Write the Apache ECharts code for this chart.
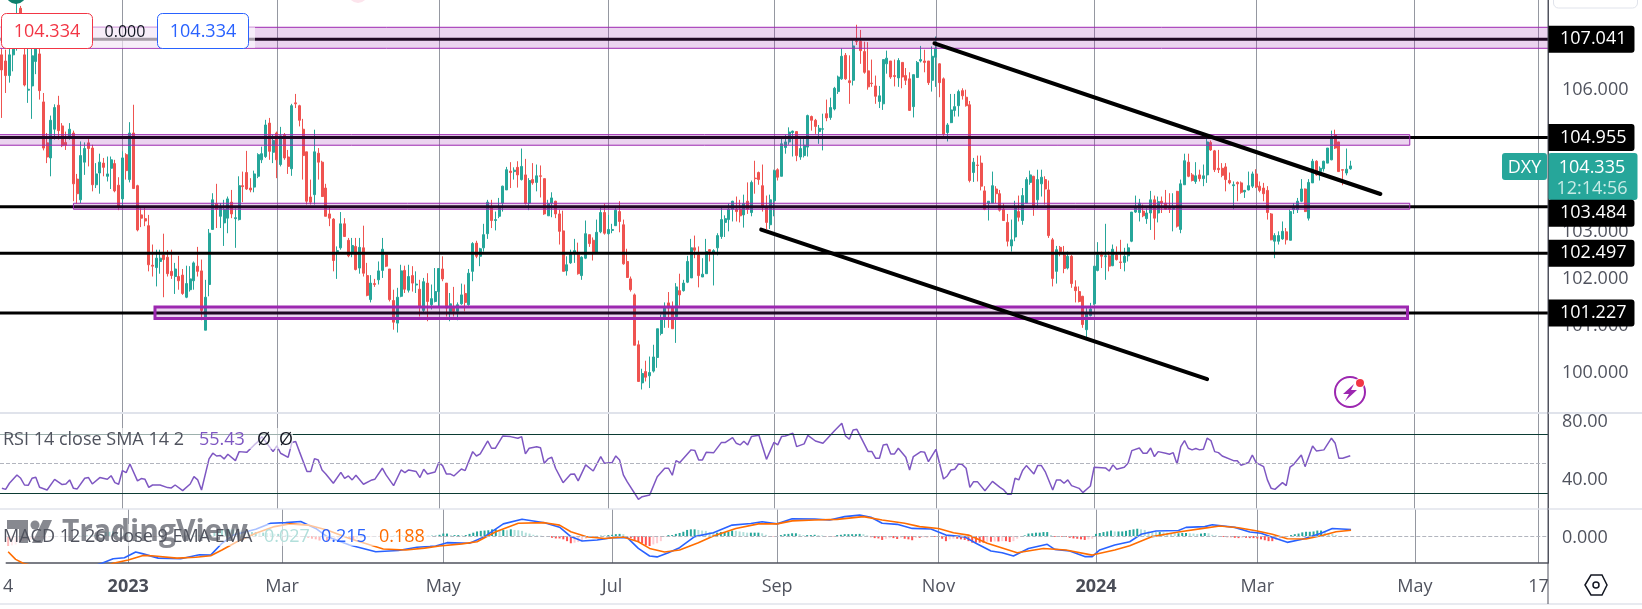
<!DOCTYPE html>
<html>
<head>
<meta charset="utf-8">
<script src="https://cdn.jsdelivr.net/npm/echarts@6/dist/echarts.min.js"></script>
<style>
html, body { margin: 0; padding: 0; background: #fff; }
#main { width: 1642px; height: 609px; }
</style>
</head>
<body>
<div id="main"></div>
<script>
var opens = [
106.71,106.58,106.27,106.71,106.96,107.70,106.71,105.96,106.05,106.57,
106.73,105.71,104.84,104.52,105.13,105.64,105.20,104.85,104.98,105.05,
104.07,103.63,104.43,104.84,104.73,103.95,104.20,104.41,104.13,104.30,
104.40,103.94,103.65,104.59,104.06,105.05,103.93,103.31,103.23,103.08,
102.24,102.19,102.32,102.46,102.41,102.11,102.00,102.00,102.03,101.56,
101.72,101.91,102.22,102.12,100.86,101.83,103.00,103.55,103.28,103.14,
103.24,103.58,103.23,103.21,103.93,104.21,103.88,103.90,104.13,104.48,
104.55,105.26,104.64,105.05,104.38,105.01,104.54,104.29,105.69,105.63,
105.13,104.65,103.69,103.74,104.62,104.43,103.88,103.33,103.22,102.53,
102.61,103.12,102.77,102.50,102.64,102.18,102.61,102.02,101.51,101.85,
101.93,102.13,102.46,102.16,101.49,101.01,101.58,102.13,101.71,102.02,
101.82,101.73,101.28,101.86,101.40,101.47,101.68,102.16,101.86,101.26,
101.33,101.26,101.42,101.64,101.40,102.11,102.71,102.43,102.61,102.91,
103.49,103.19,103.28,103.56,103.84,104.24,104.23,104.32,104.06,104.16,
103.56,104.06,104.00,104.14,104.08,103.29,103.56,103.60,103.33,102.97,
102.12,102.29,102.52,102.46,102.02,102.39,102.89,102.77,102.52,102.95,
103.36,102.91,102.98,103.08,103.38,103.10,102.32,101.95,101.61,100.55,
99.74,99.98,99.89,99.99,100.28,100.79,101.14,101.44,101.33,101.15,
101.70,101.70,101.88,101.97,102.61,102.46,101.99,102.06,102.57,102.52,
102.61,102.85,103.15,103.21,103.43,103.43,103.43,103.31,103.60,103.36,
104.09,104.21,103.93,103.48,103.10,103.61,104.27,104.13,104.74,104.86,
105.06,105.08,104.54,104.57,104.75,105.40,105.32,105.08,105.13,105.46,
105.38,105.56,105.93,106.20,106.70,106.16,106.17,107.00,107.00,106.78,
106.37,106.11,106.05,105.72,105.67,106.52,106.58,106.27,106.22,106.55,
106.27,106.20,105.61,106.23,106.58,106.58,106.58,106.17,106.66,106.52,
106.20,105.06,105.27,105.53,105.63,105.95,105.81,105.65,104.21,104.37,
104.41,103.82,103.55,103.56,103.86,103.76,103.43,103.15,102.65,102.84,
103.38,103.19,103.56,104.00,104.13,103.63,103.97,104.06,103.84,102.78,
102.11,102.62,102.46,102.18,102.43,101.78,101.68,101.58,100.87,101.17,
101.42,102.13,102.46,102.42,102.44,102.23,102.46,102.31,102.30,102.44,
102.75,103.37,103.36,103.39,103.23,103.35,103.63,103.35,103.60,103.56,
103.45,103.43,103.81,103.00,103.95,104.43,104.16,104.02,104.16,104.08,
104.16,104.85,104.67,104.30,104.30,104.33,104.04,103.93,104.00,103.99,
103.80,103.84,103.92,104.18,103.92,103.88,103.83,103.33,102.75,102.75,
102.80,102.95,102.77,103.42,103.42,103.60,103.86,103.24,103.99,104.45,
104.23,104.29,104.41,104.48,105.01,104.86,104.27,104.20,104.29
];
var closes = [
106.39,106.27,106.71,106.85,107.45,107.20,106.07,105.98,106.69,106.85,
105.95,104.73,104.54,105.32,105.59,105.10,104.78,104.79,105.13,103.97,
103.76,104.57,104.72,104.72,103.95,104.18,104.43,104.32,104.18,104.48,
103.82,103.50,104.52,104.25,105.05,103.87,102.99,103.24,103.18,102.25,
102.22,102.39,102.39,102.36,102.06,102.02,102.16,101.91,101.64,101.85,
101.95,102.29,102.11,101.28,101.56,102.92,103.63,103.43,103.45,103.42,
103.65,103.33,103.25,103.93,103.91,103.86,103.84,104.18,104.59,104.61,
105.22,104.66,104.89,104.48,104.99,104.52,104.34,105.63,105.67,105.32,
104.57,103.60,103.58,104.65,104.43,103.70,103.28,103.24,102.34,102.55,
103.12,102.85,102.44,102.66,102.15,102.62,102.07,101.60,101.86,101.83,
102.12,102.58,102.22,101.51,101.03,101.56,102.12,101.73,102.00,101.86,
101.84,101.37,101.89,101.47,101.53,101.68,102.17,101.95,101.33,101.42,
101.26,101.40,101.61,101.45,102.07,102.70,102.43,102.59,102.89,103.58,
103.19,103.21,103.48,103.92,104.27,104.21,104.26,104.16,104.34,103.55,
104.04,103.99,104.14,104.13,103.33,103.55,103.67,103.33,102.96,102.11,
102.25,102.48,102.55,102.06,102.41,102.91,102.70,102.52,102.94,103.36,
102.92,103.00,103.00,103.41,103.17,102.27,101.98,101.72,100.54,99.77,
99.94,99.86,99.96,100.29,100.89,101.08,101.33,101.33,100.89,101.78,
101.61,101.86,102.32,102.61,102.56,102.02,102.05,102.53,102.53,102.55,
102.87,103.21,103.23,103.43,103.60,103.38,103.29,103.55,103.43,104.00,
104.08,104.06,103.50,103.15,103.63,104.25,104.11,104.82,104.86,105.07,
105.09,104.57,104.72,104.79,105.42,105.32,105.19,105.15,105.14,105.37,
105.59,106.00,106.24,106.68,106.20,106.12,106.90,106.99,106.80,106.34,
106.03,106.10,105.83,105.84,106.61,106.64,106.24,106.25,106.59,106.24,
106.17,105.53,106.29,106.55,106.61,106.55,106.12,106.68,106.85,106.12,
105.03,105.22,105.54,105.61,105.93,105.84,105.63,104.04,104.43,104.36,
103.92,103.43,103.60,103.93,103.76,103.41,103.19,102.75,102.78,103.48,
103.26,103.72,104.06,104.16,103.50,104.06,104.11,103.86,102.87,101.96,
102.57,102.53,102.17,102.43,101.85,101.70,101.47,100.98,101.22,101.31,
102.22,102.46,102.43,102.44,102.22,102.58,102.36,102.30,102.43,102.61,
103.37,103.48,103.56,103.29,103.35,103.63,103.24,103.59,103.56,103.43,
103.43,103.45,103.07,103.97,104.46,104.13,104.04,104.14,104.08,104.14,
104.86,104.69,104.27,104.27,104.15,104.06,103.99,103.95,103.97,103.79,
103.83,103.93,104.18,103.90,103.83,103.76,103.36,102.78,102.87,102.87,
102.96,102.78,103.38,103.49,103.60,103.86,103.38,104.00,104.45,104.16,
104.30,104.45,104.73,104.96,104.73,104.23,104.26,104.28,104.35
];
var lows = [
105.37,105.90,106.12,106.36,106.80,106.90,106.04,105.69,105.35,106.30,
105.76,104.68,104.41,104.13,104.91,104.91,104.75,104.69,104.91,103.60,
103.55,103.56,104.16,104.34,103.81,103.88,103.76,104.13,104.02,103.86,
103.79,103.41,103.49,104.06,104.00,103.87,102.96,103.05,103.07,102.11,
102.00,101.79,102.06,101.56,102.00,101.95,101.63,101.72,101.61,101.54,
101.68,101.72,102.00,101.07,100.86,101.58,103.00,103.03,103.03,102.65,
102.92,103.24,102.61,103.19,103.58,103.84,103.79,103.79,104.09,104.41,
104.52,104.48,104.41,104.09,104.34,104.48,104.18,104.14,105.58,105.19,
104.06,103.53,103.53,103.53,104.06,103.69,103.28,103.07,102.11,101.95,
102.57,102.84,102.41,102.41,102.13,102.06,102.00,101.58,101.45,101.78,
101.83,101.97,102.20,101.47,100.87,100.81,101.56,101.65,101.66,101.68,
101.65,101.15,101.22,101.05,101.30,101.45,101.33,101.90,101.15,101.05,
101.15,101.07,101.40,101.26,101.38,101.90,102.39,102.22,102.53,102.80,
103.03,102.98,103.24,103.38,103.84,103.88,104.06,103.89,104.04,103.53,
103.41,103.95,103.81,103.68,103.31,103.29,103.26,103.24,102.68,102.11,
102.02,102.27,102.29,102.04,101.93,102.37,102.63,102.34,102.50,102.92,
102.89,102.89,102.92,103.08,102.94,102.25,101.97,101.68,100.54,99.77,
99.60,99.77,99.63,99.96,100.06,100.75,100.91,100.91,100.89,100.59,
101.38,101.68,101.86,101.97,102.39,101.77,101.99,102.06,102.32,101.81,
102.45,102.80,102.84,102.96,103.17,103.17,103.15,103.04,103.33,103.28,
103.76,103.95,103.38,103.01,103.01,103.28,104.04,104.13,104.61,104.80,
104.55,104.45,104.48,104.53,104.55,105.10,105.03,104.82,104.68,105.30,
105.33,105.53,105.88,106.18,106.18,105.67,106.06,106.92,106.52,106.31,
105.97,106.03,105.67,105.58,105.54,106.31,106.20,106.04,106.03,106.00,
106.07,105.52,105.38,106.22,106.55,106.34,106.07,105.93,106.03,105.81,
104.99,104.87,105.26,105.40,105.40,105.76,105.61,104.00,104.01,104.02,
103.83,103.41,103.19,103.56,103.56,103.38,103.19,102.64,102.53,102.75,
103.17,103.10,103.56,103.95,103.29,103.45,103.70,103.53,102.82,101.79,
101.85,102.43,102.07,102.15,101.76,101.45,101.45,100.91,100.71,101.15,
101.40,102.11,102.18,101.93,102.11,102.22,102.34,102.16,102.11,102.32,
102.73,103.35,103.17,103.26,103.12,102.99,102.78,103.15,103.35,103.42,
103.35,102.96,103.04,102.92,103.95,104.11,104.02,103.97,104.02,103.92,
103.99,104.67,104.22,104.20,104.11,103.81,103.96,103.43,103.60,103.76,
103.67,103.83,103.88,103.88,103.79,103.60,103.21,102.77,102.39,102.68,
102.78,102.68,102.77,103.33,103.35,103.58,103.37,103.19,103.99,104.14,
104.04,104.23,104.41,104.47,104.71,104.23,103.94,104.15,104.27
];
var highs = [
106.85,106.82,106.89,106.96,107.88,107.75,106.85,106.85,106.85,106.90,
106.85,105.90,105.05,105.42,105.66,105.84,105.26,105.08,105.26,105.10,
104.18,104.87,104.85,104.92,104.80,104.41,104.61,104.52,104.55,104.55,
104.48,104.11,104.66,104.62,105.28,105.65,103.95,103.45,103.48,103.31,
102.68,102.57,102.57,102.91,102.56,102.57,102.29,102.44,102.16,102.23,
102.22,102.32,102.63,102.36,101.93,103.01,103.77,103.97,103.56,103.63,
103.70,103.84,103.45,104.13,104.23,104.67,104.09,104.25,104.62,104.76,
105.33,105.37,105.01,105.08,105.18,105.05,104.69,105.67,105.88,105.65,
105.35,104.65,104.06,105.12,104.73,104.46,103.97,103.48,103.24,102.64,
103.37,103.24,102.82,102.82,102.82,102.82,103.08,102.29,102.03,101.95,
102.32,102.82,102.46,102.16,101.72,101.76,102.25,102.23,102.25,102.22,
102.11,101.93,101.97,102.07,101.83,102.18,102.17,102.43,101.86,101.65,
101.78,101.45,101.85,101.83,102.16,102.73,102.76,102.61,103.12,103.63,
103.63,103.38,103.67,103.93,104.33,104.43,104.32,104.45,104.72,104.50,
104.09,104.41,104.38,104.36,104.08,103.63,103.79,103.61,103.42,103.40,
102.43,102.57,102.80,102.72,102.43,103.19,102.89,102.83,103.21,103.48,
103.55,103.31,103.12,103.45,103.60,103.21,102.59,102.00,101.64,100.64,
100.04,100.21,100.30,100.55,100.89,101.19,101.45,101.67,101.47,101.86,
102.06,101.93,102.44,102.80,102.87,102.64,102.39,102.80,102.58,102.58,
102.92,103.48,103.30,103.55,103.61,103.70,103.63,103.74,104.00,104.04,
104.46,104.23,104.38,103.72,103.74,104.27,104.30,104.93,105.01,105.17,
105.10,105.08,104.94,104.92,105.44,105.42,105.35,105.22,105.46,105.76,
105.80,106.03,106.27,106.85,106.75,106.70,107.02,107.35,107.24,106.99,
106.98,106.61,106.27,106.05,106.61,106.80,106.58,106.61,106.64,106.55,
106.43,106.34,106.29,106.58,106.90,106.82,106.58,106.89,107.10,106.53,
106.23,105.26,105.88,105.88,105.97,106.00,105.97,105.73,104.52,104.57,
104.57,103.92,103.60,104.23,103.92,103.84,103.55,103.33,103.21,103.61,
103.72,103.88,104.11,104.25,104.14,104.27,104.27,104.13,104.04,102.82,
102.65,102.65,102.65,102.53,102.46,101.92,101.79,101.59,101.33,101.44,
102.22,102.73,102.53,103.12,102.53,102.68,102.64,102.78,102.61,102.70,
103.37,103.72,103.65,103.53,103.45,103.82,103.72,103.70,103.70,103.84,
103.77,103.77,103.82,104.06,104.61,104.61,104.20,104.43,104.27,104.38,
105.01,104.89,104.69,104.69,104.41,104.41,104.21,104.02,104.02,104.02,
103.84,104.23,104.23,104.28,104.02,103.99,103.92,103.35,102.92,102.96,
103.17,103.03,103.42,103.56,103.67,104.07,103.87,104.07,104.50,104.47,
104.34,104.46,104.73,105.10,105.12,104.86,104.27,104.72,104.46
];

// rsi: bar number and value of each vertex
var rsiBars = [0,1,2,4,5,6,7,8,9,10,12,14,16,17,18,19,20,22,23,24,26,28,29,30,31,32,33,34,36,37,38,39,40,42,44,45,46,48,50,51,52,53,55,56,57,58,59,60,62,63,65,67,68,69,70,72,73,74,76,77,78,79,81,82,83,84,85,86,88,90,91,92,93,94,96,98,99,101,102,104,106,107,108,110,111,112,113,115,116,117,118,119,120,122,123,125,126,127,129,130,131,133,135,137,138,139,140,142,143,144,145,146,147,149,151,152,153,155,157,159,160,162,163,164,165,166,169,170,172,174,176,177,178,179,180,183,184,185,186,187,189,191,192,194,195,196,197,198,199,201,203,205,206,207,208,210,211,213,214,216,218,221,223,224,225,226,227,230,231,232,233,234,235,236,237,238,240,241,242,244,245,246,248,250,251,252,253,254,255,256,257,258,259,261,263,265,266,267,268,269,270,271,272,274,275,276,277,279,280,281,282,283,284,286,287,289,290,293,294,295,296,298,299,300,302,303,304,305,306,307,309,310,311,312,313,314,315,316,317,318,319,320,321,322,323,324,327,328,329,331,332,333,335,336,337,338,340,341,342,343,345,346,348,349,351,353,354,355,356,358];
var rsiValues = [33.1,32.4,36.6,42.3,40,35.4,35.2,40,40.7,33.8,32,39.3,35.7,36.1,38.9,33.1,32.7,40,40.5,36.1,40.5,39.3,41.8,37,35.9,45.3,43.9,49.8,38.2,39.8,39.3,33.8,35.4,35.4,33.6,33.4,35.4,31.5,36.1,41.1,38.9,32,53.3,57.2,55.3,55.6,53.3,56.5,52.1,58.3,57.8,62.9,65.2,68.6,65.2,58.3,62.2,57.2,54.4,64.5,65.2,58.3,44.6,44.6,53.5,52.6,45.7,43,36.6,44.1,40,41.6,38.9,42.1,35.9,38.6,39.3,46.9,42.3,35,45.7,43.9,45.7,44.6,40.5,46.2,43,44.3,50.8,48.7,43,43,41.6,46.4,45.3,58.3,55.3,56.7,65.6,60.6,60.6,69.1,68.6,67.5,68.6,56.7,60.6,61.7,61,50.3,53.3,54.4,46.9,37,42.7,43,38.2,49.2,45,54.9,50.3,50.8,55.3,52.6,42.3,37.7,25.6,27.4,28.6,41.1,46.9,46.9,42.1,52.1,50.8,59.5,59,52.6,52.6,57.8,57.6,64.5,64.5,67.9,64,62.9,65.4,62.9,68.6,69.5,53,64.7,62.9,68.6,69,70.9,61.7,63.6,69.5,65.6,64,72.5,77.8,69,66.8,73.2,73.6,58.3,58.3,53.7,53.7,62.9,63.3,56.7,56.7,60.6,54.4,45.7,54.9,58.3,57.8,51.4,59.9,39.5,41.6,45.7,46.2,49.8,49.4,46.9,33.8,37.7,37.7,31.5,37.9,33.8,32,29,29,40,38.9,45.3,48.7,43,48.7,48.7,44.6,32,38.9,38.9,36.6,38.9,35,33.1,30.2,34.7,47.6,47.1,45,49.2,46.2,47.6,50.3,59,60.8,57.2,57.2,60.8,54.9,58.3,57.2,56.5,57.6,49.8,61.7,65.9,60.6,59.5,60.4,59.5,59.9,67.5,65.9,58.3,57.6,55.3,52.1,52.1,48.9,50.8,56,50.8,48,38.9,33.1,32.4,37,35,47.6,49.6,56,48,62.2,58.8,59.5,67.5,64,53.7,53.7,55.43];

var macdBars = [0,14,25,28,31,34,36,40,46,51,54,57,60,66,70,74,78,82,85,91,98,104,109,114,117,123,127,132,137,143,147,150,153,157,161,165,168,171,173,176,179,183,188,193,198,201,205,209,215,219,223,227,230,233,237,241,246,250,255,258,262,265,268,272,277,279,283,287,289,291,295,299,302,306,312,314,319,321,327,331,334,337,341,345,350,353,358];
var macdValues = [-1.01,-1.34,-0.90,-0.75,-0.72,-0.53,-0.59,-0.73,-0.75,-0.62,-0.63,-0.24,0.03,0.22,0.42,0.44,0.48,0.25,-0.02,-0.30,-0.52,-0.48,-0.37,-0.33,-0.22,-0.24,-0.02,0.40,0.55,0.44,0.29,-0.02,-0.165,-0.13,-0.055,-0.044,-0.41,-0.66,-0.69,-0.55,-0.385,-0.02,0.11,0.36,0.41,0.47,0.40,0.57,0.56,0.53,0.64,0.69,0.62,0.42,0.385,0.25,0.23,0.03,-0.03,-0.24,-0.495,-0.55,-0.66,-0.41,-0.275,-0.44,-0.495,-0.68,-0.68,-0.46,-0.30,-0.19,0.055,0.165,0.18,0.285,0.31,0.37,0.285,0.13,0.09,-0.04,-0.21,-0.11,0.09,0.25,0.215];
var signalBars = [0,2,4,14,25,28,32,36,39,45,50,54,57,61,66,71,75,80,85,91,100,106,111,115,121,125,130,136,143,147,150,154,159,164,168,171,175,179,184,188,194,200,205,209,215,221,228,233,239,243,248,252,256,261,269,276,282,289,295,299,305,312,319,323,328,333,337,341,346,350,354,358];
var signalValues = [-0.52,-0.77,-0.90,-1.2,-1.05,-0.90,-0.79,-0.64,-0.66,-0.73,-0.70,-0.65,-0.46,-0.19,0.09,0.31,0.40,0.36,0.20,-0.08,-0.43,-0.46,-0.40,-0.33,-0.26,-0.19,0.14,0.42,0.44,0.36,0.14,-0.02,-0.08,-0.03,-0.19,-0.41,-0.53,-0.46,-0.22,0,0.25,0.40,0.40,0.50,0.53,0.55,0.64,0.53,0.42,0.31,0.25,0.11,0.03,-0.24,-0.55,-0.41,-0.46,-0.63,-0.46,-0.32,-0.02,0.13,0.26,0.33,0.27,0.165,0.055,-0.09,-0.10,0.01,0.14,0.188];
var histValues = [
-0.33,-0.31,-0.28,-0.22,-0.17,-0.13,-0.11,-0.09,-0.08,-0.07,-0.06,-0.04,-0.03,-0.03,-0.02,-0.02,-0.01,-0.01,0.01,0.01,0.01,0.02,0.02,0.02,0.03,0.03,
0.13,0.14,0.15,0.13,0.11,0.09,0.07,0.06,0.04,0.03,0.02,0.01,-0.02,-0.03,-0.03,-0.03,-0.02,-0.02,-0.01,-0.01,-0.01,0.01,0.01,0.01,0.02,0.02,0.02,0.01,
0.03,0.11,0.18,0.22,0.22,0.22,0.22,0.20,0.18,0.15,0.13,0.13,
0.13,0.11,0.11,0.10,0.09,0.07,0.07,0.06,0.04,0.03,0.02,0.01,-0.01,-0.03,-0.06,
-0.09,-0.11,-0.15,-0.13,-0.18,-0.15,-0.13,-0.11,-0.09,-0.07,-0.09,-0.11,-0.09,-0.07,-0.06,-0.04,-0.03,-0.02,-0.02,-0.01,
-0.01,-0.01,0.01,0.01,0.01,0.01,0.01,0.01,0.01,0.01,0.01,0.01,0.01,0.01,
0.04,0.08,0.08,0.03,0.03,0.03,0.02,0.03,0.07,0.11,0.15,0.17,0.18,0.19,0.22,0.22,0.20,0.20,0.19,0.22,0.20,0.19,0.17,0.11,0.08,0.04,0.02,0.01,0,
-0.03,-0.06,-0.08,-0.08,-0.11,-0.17,-0.24,-0.22,-0.20,-0.17,-0.09,-0.06,-0.03,-0.02,0.01,0.01,0.03,0.04,0.06,0.07,0.06,
-0.02,-0.07,-0.13,-0.19,-0.24,-0.31,-0.33,-0.28,-0.24,-0.17,-0.02,0.03,0.03,0.07,0.10,0.14,0.20,0.22,0.22,0.20,0.18,0.17,0.13,0.11,0.11,0.13,
0.13,0.14,0.18,0.17,0.15,0.13,0.11,0.11,0.11,0.11,0.09,0.04,-0.01,-0.01,-0.01,0.03,0.06,0.07,0.09,0.09,0.06,0.03,0.03,0.03,0.04,0.03,0.02,-0.01,-0.01,-0.01,
0.03,0.04,0.06,0.06,0.06,0.06,0.07,0.06,0.02,-0.04,-0.07,-0.08,-0.13,-0.09,-0.07,-0.07,-0.10,-0.06,-0.09,-0.11,-0.14,-0.06,-0.06,-0.04,-0.04,-0.03,-0.03,-0.02,
-0.09,-0.17,-0.11,-0.09,-0.09,-0.11,-0.13,-0.17,-0.22,-0.22,-0.22,-0.22,-0.19,-0.19,-0.18,-0.18,-0.17,-0.17,-0.20,-0.17,-0.09,-0.03,0.02,0.08,0.09,0.11,0.11,
0.13,0.13,0.03,-0.03,-0.03,-0.03,-0.03,-0.06,-0.08,-0.09,-0.11,-0.13,-0.11,-0.09,
0.07,0.10,0.13,0.15,0.18,0.15,0.15,0.15,0.17,0.20,0.22,0.24,0.22,0.20,0.15,0.14,0.13,0.13,0.12,0.11,0.10,0.09,0.09,0.10,0.10,0.09,0.08,0.07,0.08,0.10,0.09,0.04,0.02,
-0.02,-0.03,-0.04,-0.04,-0.06,-0.07,-0.06,-0.06,-0.07,-0.07,-0.08,-0.11,-0.14,-0.17,-0.17,-0.13,-0.09,-0.06,-0.02,0.03,0.06,0.08,0.12,0.14,0.14,0.15,0.18,0.18,0.13,0.10,0.07,0.03
];

var timeLabelBars = [0, 32, 73, 116, 161, 205, 248, 290, 333, 375, 408];
var timeLabels = ['4', '2023', 'Mar', 'May', 'Jul', 'Sep', 'Nov', '2024', 'Mar', 'May', '17'];
var gridBars = [32, 73, 116, 161, 205, 248, 290, 333, 375, 408];

var priceTicks = [100, 101, 102, 103, 104, 105, 106, 107];
var rsiTicks = [40, 80];
var macdTicks = [0];
var levelPrices = [107.041, 104.955, 103.484, 102.497, 101.227];

// zones, in bars and price
var zoneFrom = [-3, -3, 19, 40.65];
var zoneTo = [414, 373.8, 373.8, 373.2];
var zoneHigh = [107.296, 105.014, 103.557, 101.35];
var zoneLow = [106.85, 104.79, 103.43, 101.11];

var trendFromBar = [247.6, 201.6];
var trendFromPrice = [106.956, 102.996];
var trendToBar = [366, 320];
var trendToPrice = [103.754, 99.818];

var BAR_SLOTS = 411;
var UP = '#26a69a', DOWN = '#ef5350', PURPLE = '#9c27b0';
var FONT = '"Open Sans", sans-serif';
var TEXT = '#50535e';
var TS = 18;

function pairs(xs, ys) {
    var out = [];
    for (var i = 0; i < xs.length; i++) {
        out.push([xs[i], ys[i]]);
    }
    return out;
}

var candleData = [];
for (var i = 0; i < opens.length; i++) {
    candleData.push([opens[i], closes[i], lows[i], highs[i]]);
}

var histData = [];
for (var i = 0; i < histValues.length; i++) {
    var v = histValues[i], prev = i ? histValues[i - 1] : 0, col;
    if (v >= 0) {
        col = v >= prev ? '#26a69a' : '#b2dfdb';
    } else {
        col = v <= prev ? '#ff5252' : '#ffcdd2';
    }
    histData.push({ value: [i, v], itemStyle: { color: col } });
}

var categories = [];
for (var i = 0; i < BAR_SLOTS; i++) {
    var at = timeLabelBars.indexOf(i);
    categories.push(at >= 0 ? timeLabels[at] : '');
}

function isGridBar(index) {
    return gridBars.indexOf(index) >= 0;
}

function catAxis(gridIndex, showLabels) {
    return {
        type: 'category',
        gridIndex: gridIndex,
        data: categories,
        boundaryGap: true,
        axisLine: { show: showLabels, onZero: false, lineStyle: { color: TEXT, width: 1.5 } },
        axisTick: { show: false },
        splitLine: {
            show: true,
            alignWithLabel: true,
            interval: function (index) { return isGridBar(index); },
            lineStyle: { color: '#9598a1', width: 1 }
        },
        axisLabel: {
            show: showLabels,
            interval: 0,
            margin: 15,
            hideOverlap: false,
            fontFamily: FONT,
            fontSize: TS,
            color: TEXT,
            formatter: function (val) {
                return /^20/.test(val) ? '{y|' + val + '}' : val;
            },
            rich: { y: { fontFamily: FONT, fontSize: TS, fontWeight: 'bold', color: '#4a4d57' } }
        }
    };
}

function priceAxis(gridIndex, min, max, ticks, digits) {
    return {
        type: 'value',
        gridIndex: gridIndex,
        position: 'right',
        min: min,
        max: max,
        axisLine: { show: true, onZero: false, lineStyle: { color: TEXT, width: 1 } },
        axisTick: { show: false, customValues: ticks },
        splitLine: { show: true, lineStyle: { color: '#ffffff', width: 1 } },
        axisLabel: {
            customValues: ticks,
            margin: 14,
            formatter: function (val) { return '{t|' + val.toFixed(digits) + '}'; },
            rich: {
                t: { fontFamily: FONT, fontSize: TS, color: TEXT, padding: [4, 0, 0, 0] }
            }
        }
    };
}

var levelSeries = levelPrices.map(function (price) {
    return {
        type: 'line',
        xAxisIndex: 3,
        yAxisIndex: 0,
        z: 6,
        silent: true,
        symbol: 'none',
        lineStyle: { color: '#000', width: 3 },
        data: [[-0.5, price], [410.5, price]],
        endLabel: {
            show: true,
            distance: 0,
            // the 103.484 tag is pushed down by the current price tag
            offset: [0, price === 103.484 ? 6.6 : 0],
            formatter: function (p) { return p.value[1].toFixed(3); },
            backgroundColor: '#000',
            borderRadius: [0, 3, 3, 0],
            color: '#fff',
            fontFamily: FONT,
            fontSize: TS,
            lineHeight: 19,
            padding: [5, 8, 3, 12]
        }
    };
});

var trendSeries = trendFromBar.map(function (bar, n) {
    return {
        type: 'line',
        xAxisIndex: 3,
        yAxisIndex: 0,
        z: 8,
        silent: true,
        symbol: 'none',
        lineStyle: { color: '#000', width: 4, cap: 'round' },
        data: [[bar, trendFromPrice[n]], [trendToBar[n], trendToPrice[n]]]
    };
});

var zoneSeries = {
    type: 'custom',
    xAxisIndex: 3,
    yAxisIndex: 0,
    z: 7,
    silent: true,
    clip: true,
    encode: { x: [0, 1], y: [2, 3] },
    data: zoneFrom.map(function (from, n) {
        return [from, zoneTo[n], zoneHigh[n], zoneLow[n]];
    }),
    renderItem: function (params, api) {
        var a = api.coord([api.value(0), api.value(2)]);
        var b = api.coord([api.value(1), api.value(3)]);
        return {
            type: 'rect',
            shape: { x: a[0], y: a[1], width: b[0] - a[0], height: b[1] - a[1] },
            style: {
                fill: 'rgba(156,39,176,0.2)',
                stroke: PURPLE,
                lineWidth: params.dataIndex === 3 ? 3 : 1
            }
        };
    }
};

function txt(x, y, text, color, size, weight, align, z) {
    return {
        type: 'text',
        x: x,
        y: y,
        z: z || 60,
        style: {
            text: text,
            fill: color,
            fontFamily: FONT,
            fontSize: size || TS,
            fontWeight: weight || 'normal',
            align: align || 'left',
            verticalAlign: 'middle'
        }
    };
}

function box(x, y, w, h, fill, stroke, radius, z) {
    return {
        type: 'rect',
        z: z,
        shape: { x: x, y: y, width: w, height: h, r: radius || 0 },
        style: { fill: fill, stroke: stroke || null, lineWidth: 1 }
    };
}

function rule(x1, y1, x2, y2, color, width, z) {
    return {
        type: 'line',
        z: z || 30,
        shape: { x1: x1, y1: y1, x2: x2, y2: y2 },
        style: { stroke: color, lineWidth: width }
    };
}

var graphics = [
    // pane dividers
    rule(0, 413, 1642, 413, '#e0e3eb', 2),
    rule(0, 509, 1642, 509, '#e0e3eb', 1.5),
    rule(0, 604, 1642, 604, '#e0e3eb', 1.5),
    rule(1548, 0, 1548, 604, TEXT, 1, 31),
    // corners cut by the crop
    { type: 'circle', z: 30, shape: { cx: 16, cy: -6, r: 10 }, style: { fill: '#0e7f6d' } },
    { type: 'circle', z: 30, shape: { cx: 358, cy: -7, r: 10 }, style: { fill: '#fce4ec' } },
    box(1553.5, -20, 84, 28, '#fff', '#e0e3eb', 5, 30),
    // order panel
    box(0, 27, 255, 21, 'rgba(255,255,255,0.6)', null, 0, 40),
    box(1.5, 13.5, 91, 35, '#fff', '#f23645', 5, 41),
    box(157.5, 13.5, 91, 35, '#fff', '#2962ff', 5, 41),
    txt(47, 32, '104.334', '#f23645', 18, 'normal', 'center'),
    txt(125, 32, '0.000', '#131722', 16, 'normal', 'center'),
    txt(203, 32, '104.334', '#2962ff', 18, 'normal', 'center'),
    // current price tag
    box(1548, 153, 89.5, 47, UP, null, 3, 5),
    box(1502, 153, 45, 27, UP, null, 3, 5),
    txt(1524.5, 168, 'DXY', '#fff', TS, 'normal', 'center', 5),
    txt(1592, 168, '104.335', '#fff', TS, 'normal', 'center', 5),
    txt(1592, 189, '12:14:56', '#c8ebe6', TS, 'normal', 'center', 5),
    // rsi legend
    box(0, 428, 293, 21, 'rgba(255,255,255,0.6)', null, 0, 40),
    txt(3, 440, 'RSI 14 close SMA 14 2', TEXT),
    txt(199, 440, '55.43', '#7e57c2'),
    txt(257, 440, '\u00d8', '#131722'),
    txt(279, 440, '\u00d8', '#131722'),
    // watermark
    box(0, 524, 430, 22, 'rgba(255,255,255,0.6)', null, 0, 40),
    { type: 'polygon', z: 45, shape: { points: [[7, 520], [28, 520], [28, 543], [19, 543], [19, 529], [7, 529]] }, style: { fill: 'rgba(70,73,84,0.65)' } },
    { type: 'circle', z: 45, shape: { cx: 35, cy: 525, r: 4.5 }, style: { fill: 'rgba(70,73,84,0.65)' } },
    { type: 'polygon', z: 45, shape: { points: [[43, 520], [52, 520], [42, 543], [32, 543]] }, style: { fill: 'rgba(70,73,84,0.65)' } },
    txt(62, 532, 'TradingView', 'rgba(70,73,84,0.65)', 30, 'bold', 'left', 45),
    // macd legend
    txt(3, 537, 'MACD 12 26 close 9 EMA EMA', TEXT),
    txt(264, 537, '0.027', '#b2dfdb'),
    txt(321, 537, '0.215', '#2962ff'),
    txt(379, 537, '0.188', '#ff6d00'),
    // settings hexagon
    { type: 'polygon', z: 50, shape: { points: [[1585, 585], [1591, 575], [1602, 575], [1607, 585], [1602, 595], [1591, 595]] }, style: { fill: 'none', stroke: '#131722', lineWidth: 1.5 } },
    { type: 'circle', z: 50, shape: { cx: 1596, cy: 585, r: 3 }, style: { fill: 'none', stroke: '#131722', lineWidth: 1.5 } },
    // alert badge
    { type: 'circle', z: 50, shape: { cx: 1350, cy: 392, r: 15 }, style: { fill: 'none', stroke: PURPLE, lineWidth: 2 } },
    { type: 'polygon', z: 50, shape: { points: [[1354, 384], [1343, 394], [1349, 394], [1345, 401], [1357, 390], [1351, 390]] }, style: { fill: PURPLE } },
    { type: 'circle', z: 50, shape: { cx: 1360, cy: 383, r: 5 }, style: { fill: '#fff' } },
    { type: 'circle', z: 51, shape: { cx: 1360, cy: 383, r: 4 }, style: { fill: '#f23645' } }
];

var option = {
    backgroundColor: '#fff',
    animation: false,
    grid: [
        { left: 0, top: 0, width: 1548, height: 413 },
        { left: 0, top: 413, width: 1548, height: 96 },
        { left: 0, top: 509, width: 1548, height: 54 }
    ],
    xAxis: [
        catAxis(0, false),
        catAxis(1, false),
        catAxis(2, true),
        { type: 'value', gridIndex: 0, min: -0.5, max: 410.5, show: false }
    ],
    yAxis: [
        priceAxis(0, 99.10, 107.876, priceTicks, 3),
        priceAxis(1, 18.93, 84.8, rsiTicks, 2),
        priceAxis(2, -0.891, 0.891, macdTicks, 3)
    ],
    graphic: graphics,
    series: [
        {
            type: 'candlestick',
            xAxisIndex: 0,
            yAxisIndex: 0,
            z: 3,
            barWidth: 2.5,
            silent: true,
            itemStyle: { color: UP, color0: DOWN, borderColor: UP, borderColor0: DOWN, borderWidth: 1 },
            data: candleData
        },
        zoneSeries
    ].concat(levelSeries, trendSeries, [
        {
            type: 'line',
            xAxisIndex: 1,
            yAxisIndex: 1,
            z: 3,
            silent: true,
            symbol: 'none',
            lineStyle: { color: '#7e57c2', width: 1.5 },
            data: pairs(rsiBars, rsiValues),
            markLine: {
                silent: true,
                symbol: 'none',
                label: { show: false },
                lineStyle: { color: '#0b3b33', width: 1, type: 'solid' },
                data: [
                    { yAxis: 70 },
                    { yAxis: 30 },
                    { yAxis: 50, lineStyle: { color: '#b2b5be', type: 'dashed' } }
                ]
            }
        },
        {
            type: 'bar',
            xAxisIndex: 2,
            yAxisIndex: 2,
            z: 2,
            barWidth: 2,
            silent: true,
            data: histData,
            markLine: {
                silent: true,
                symbol: 'none',
                label: { show: false },
                lineStyle: { color: '#b2b5be', width: 1, type: 'dashed' },
                data: [{ yAxis: 0 }]
            }
        },
        {
            type: 'line',
            xAxisIndex: 2,
            yAxisIndex: 2,
            z: 3,
            silent: true,
            symbol: 'none',
            lineStyle: { color: '#2962ff', width: 1.6 },
            data: pairs(macdBars, macdValues)
        },
        {
            type: 'line',
            xAxisIndex: 2,
            yAxisIndex: 2,
            z: 4,
            silent: true,
            symbol: 'none',
            lineStyle: { color: '#ff6d00', width: 1.6 },
            data: pairs(signalBars, signalValues)
        }
    ])
};

var chart = echarts.init(document.getElementById('main'));
chart.setOption(option);
</script>
</body>
</html>
